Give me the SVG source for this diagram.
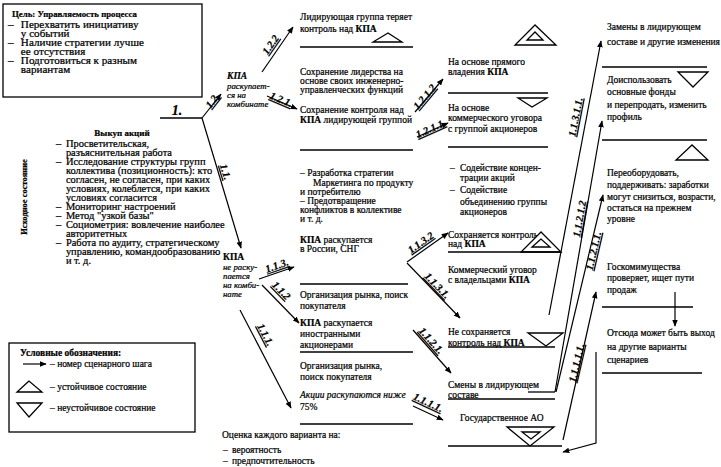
<svg xmlns="http://www.w3.org/2000/svg" width="721" height="467" viewBox="0 0 721 467">
<defs>
<marker id="ah" viewBox="0 0 10 10" refX="9" refY="5" markerWidth="7" markerHeight="7" orient="auto" markerUnits="userSpaceOnUse"><path d="M0,1 L10,5 L0,9 Z" fill="#000"/></marker>
</defs>
<style>
text{font-family:"Liberation Serif","Times New Roman",serif;font-size:9.5px;fill:#000;stroke:#000;stroke-width:0.22}
.b{font-weight:bold}
.i{font-style:italic}
.n{font-weight:bold;font-style:italic;font-size:10.5px;text-decoration:underline;text-anchor:middle}
.ln{stroke:#000;stroke-width:1.3;fill:none}
.ar{stroke:#000;stroke-width:1.2;fill:none;marker-end:url(#ah)}
.tr{stroke:#000;stroke-width:1.3;fill:#fff}
</style>
<rect width="721" height="467" fill="#fff"/>

<g id="goal">
<rect x="3" y="4" width="199" height="93" class="ln"/>
<text x="12" y="17" class="b" style="font-size:8.8px">Цель: Управляемость процесса</text>
<g transform="translate(8,0) scale(1.17,1)">
<text x="0" y="28">–</text><text x="11" y="28">Перехватить инициативу</text>
<text x="11" y="37">у событий</text>
<text x="0" y="46">–</text><text x="11" y="46">Наличие стратегии лучше</text>
<text x="11" y="55">ее отсутствия</text>
<text x="0" y="64">–</text><text x="11" y="64">Подготовиться к разным</text>
<text x="11" y="73">вариантам</text>
</g>
</g>

<g id="initial">
<text transform="translate(27,197) rotate(-90)" class="b" style="font-size:8.5px;text-anchor:middle">Исходное состояние</text>
<text x="122" y="136" class="b" style="text-anchor:middle;font-size:9px">Выкуп акций</text>
<g transform="translate(56,0) scale(1.1,1)">
<text x="0" y="147">–</text><text x="9" y="147">Просветительская,</text>
<text x="9" y="156">разъяснительная работа</text>
<text x="0" y="165">–</text><text x="9" y="165">Исследование структуры групп</text>
<text x="9" y="174">коллектива (позиционность): кто</text>
<text x="9" y="183">согласен, не согласен, при каких</text>
<text x="9" y="192">условиях, колеблется, при каких</text>
<text x="9" y="201">условиях согласится</text>
<text x="0" y="210">–</text><text x="9" y="210">Мониторинг настроений</text>
<text x="0" y="219">–</text><text x="9" y="219">Метод "узкой базы"</text>
<text x="0" y="228">–</text><text x="9" y="228">Социометрия: вовлечение наиболее</text>
<text x="9" y="237">авторитетных</text>
<text x="0" y="246">–</text><text x="9" y="246">Работа по аудиту, стратегическому</text>
<text x="9" y="255">управлению, командообразованию</text>
<text x="9" y="264">и т. д.</text>
</g>
</g>

<g id="legend">
<rect x="9" y="343" width="186" height="89" class="ln"/>
<text x="20" y="356" class="b">Условные обозначения:</text>
<line x1="23" y1="364" x2="46" y2="364" class="ar"/>
<text x="50" y="367">– номер сценарного шага</text>
<polygon points="29,381 17,392 42,392" class="tr"/>
<text x="50" y="390">– устойчивое состояние</text>
<polygon points="17,403 42,403 29,417" class="tr"/>
<text x="50" y="411">– неустойчивое состояние</text>
</g>

<g id="n12">
<text x="227" y="79" class="b i">КПА</text>
<text x="227" y="89" class="i" style="font-size:8.8px">раскупает-</text>
<text x="227" y="98" class="i" style="font-size:8.8px">ся на</text>
<text x="227" y="107" class="i" style="font-size:8.8px">комбинате</text>
</g>

<g id="n11">
<text x="223" y="260" class="b">КПА</text>
<text x="223" y="270" class="i" style="font-size:8.8px">не раску-</text>
<text x="223" y="279" class="i" style="font-size:8.8px">пается</text>
<text x="223" y="288" class="i" style="font-size:8.8px">на комби-</text>
<text x="223" y="297" class="i" style="font-size:8.8px">нате</text>
</g>

<g id="n122">
<text x="300" y="20">Лидирующая группа теряет</text>
<text x="300" y="32">контроль над <tspan class="b">КПА</tspan></text>
<polygon points="388,33 373,42 402,42" class="tr"/>
</g>

<g id="n121">
<text x="300" y="75">Сохранение лидерства на</text>
<text x="300" y="84">основе своих инженерно-</text>
<text x="300" y="93">управленческих функций</text>
<text x="300" y="113">Сохранение контроля над</text>
<text x="300" y="123"><tspan class="b">КПА</tspan> лидирующей группой</text>
</g>

<g id="n1212">
<polygon points="535,25 515,45 556,45" class="tr"/>
<polygon points="535,32 527,40 543,40" class="tr"/>
<text x="448" y="65">На основе прямого</text>
<text x="448" y="75">владения <tspan class="b">КПА</tspan></text>
</g>

<g id="n1211">
<polygon points="518,98 547,98 532,107" class="tr"/>
<text x="448" y="111">На основе</text>
<text x="448" y="121">коммерческого уговора</text>
<text x="448" y="132">с группой акционеров</text>
</g>

<g id="n113">
<text x="300" y="176">– Разработка стратегии</text>
<text x="313" y="186">Маркетинга по продукту</text>
<text x="300" y="195">и потребителю</text>
<text x="300" y="204">– Предотвращение</text>
<text x="300" y="213">конфликтов в коллективе</text>
<text x="300" y="222">и т. д.</text>
<text x="300" y="243"><tspan class="b">КПА</tspan> раскупается</text>
<text x="300" y="252">в России, СНГ</text>
</g>

<g id="n1132">
<text x="450" y="171">–</text><text x="460" y="171">Содействие концен-</text>
<text x="460" y="181">трации акций</text>
<text x="450" y="193">–</text><text x="460" y="193">Содействие</text>
<text x="460" y="205">объединению группы</text>
<text x="460" y="215">акционеров</text>
<text x="448" y="238">Сохраняется контроль</text>
<text x="448" y="247">над <tspan class="b">КПА</tspan></text>
<polygon points="541,232 521,252 561,252" class="tr"/>
<polygon points="541,239 532,247 550,247" class="tr"/>
</g>

<g id="n1131">
<text x="448" y="273">Коммерческий уговор</text>
<text x="448" y="283">с владельцами <tspan class="b">КПА</tspan></text>
<text x="448" y="335">Не сохраняется</text>
<text x="448" y="346">контроль над <tspan class="b">КПА</tspan></text>
<polygon points="528,333 563,333 546,346" class="tr"/>
</g>

<g id="n112">
<text x="300" y="298">Организация рынка, поиск</text>
<text x="300" y="309">покупателя</text>
<text x="300" y="326"><tspan class="b">КПА</tspan> раскупается</text>
<text x="300" y="337">иностранными</text>
<text x="300" y="348">акционерами</text>
</g>

<g id="n111">
<text x="300" y="369">Организация рынка,</text>
<text x="300" y="380">поиск покупателя</text>
<text x="300" y="398" class="i">Акции раскупаются ниже</text>
<text x="300" y="410">75%</text>
</g>

<g id="n1121">
<text x="448" y="388">Смены в лидирующем</text>
<text x="448" y="398">составе</text>
</g>

<g id="n1111">
<text x="460" y="421">Государственное АО</text>
<polygon points="507,427 554,427 530,446" class="tr"/>
<polygon points="522,432 540,432 531,439" class="tr"/>
</g>

<g id="n11311">
<text x="607" y="30">Замены в лидирующем</text>
<text x="607" y="45">составе и другие изменения</text>
</g>

<g id="n11212">
<polygon points="678,72 708,72 693,87" class="tr"/>
<text x="607" y="83">Доиспользовать</text>
<text x="607" y="95">основные фонды</text>
<text x="607" y="108">и перепродать, изменить</text>
<text x="607" y="120">профиль</text>
</g>

<g id="n11211">
<polygon points="692,145 676,160 708,160" class="tr"/>
<text x="607" y="176">Переоборудовать,</text>
<text x="607" y="188">поддерживать: заработки</text>
<text x="607" y="200">могут снизиться, возрасти,</text>
<text x="607" y="211">остаться на прежнем</text>
<text x="607" y="222">уровне</text>
</g>

<g id="n11111">
<text x="607" y="270">Госкомимущества</text>
<text x="607" y="281">проверяет, ищет пути</text>
<text x="607" y="293">продаж</text>
</g>

<g id="exit">
<text x="607" y="336">Отсюда может быть выход</text>
<text x="607" y="350">на другие варианты</text>
<text x="607" y="363">сценариев</text>
</g>

<g id="evaluation">
<text x="222" y="438">Оценка каждого варианта на:</text>
<text x="223" y="453">–</text><text x="232" y="453">вероятность</text>
<text x="223" y="464">–</text><text x="232" y="464">предпочтительность</text>
</g>

<g id="connectors">
<line x1="300" y1="47" x2="413" y2="47" class="ln"/>
<line x1="300" y1="150" x2="413" y2="150" class="ln"/>
<line x1="300" y1="284" x2="408" y2="284" class="ln"/>
<line x1="300" y1="352" x2="413" y2="352" class="ln"/>
<line x1="300" y1="424" x2="413" y2="424" class="ln"/>
<line x1="448" y1="93" x2="548" y2="93" class="ln"/>
<line x1="448" y1="147" x2="548" y2="147" class="ln"/>
<line x1="448" y1="252" x2="560" y2="252" class="ln"/>
<line x1="448" y1="347" x2="555" y2="347" class="ln"/>
<line x1="528" y1="392" x2="555" y2="392" class="ln"/>
<line x1="448" y1="399" x2="555" y2="399" class="ln"/>
<line x1="448" y1="446" x2="562" y2="446" class="ln"/>
<line x1="602" y1="67" x2="707" y2="67" class="ln"/>
<line x1="602" y1="140" x2="707" y2="140" class="ln"/>
<line x1="602" y1="373" x2="702" y2="373" class="ln"/>
<line x1="602" y1="307" x2="693" y2="307" class="ln"/>

<line x1="160" y1="118" x2="202" y2="118" class="ln"/>
<line x1="202" y1="118" x2="221" y2="94" class="ar"/>
<line x1="202" y1="118" x2="241" y2="248" class="ar"/>
<line x1="262" y1="72" x2="293" y2="27" class="ar"/>
<line x1="267" y1="96" x2="297" y2="109" class="ar"/>
<line x1="415" y1="112" x2="443" y2="79" class="ar"/>
<line x1="417" y1="137" x2="448" y2="123" class="ar"/>
<line x1="259" y1="279" x2="294" y2="267" class="ar"/>
<line x1="262" y1="285" x2="299" y2="323" class="ar"/>
<line x1="240" y1="310" x2="291" y2="408" class="ar"/>
<line x1="407" y1="262" x2="448" y2="233" class="ar"/>
<line x1="407" y1="263" x2="460" y2="318" class="ar"/>
<line x1="413" y1="330" x2="451" y2="373" class="ar"/>
<line x1="413" y1="406" x2="443" y2="420" class="ar"/>
<line x1="549" y1="315" x2="601" y2="41" class="ar"/>
<line x1="555" y1="392" x2="602" y2="121" class="ar"/>
<line x1="556" y1="392" x2="603" y2="195" class="ar"/>
<line x1="563" y1="440" x2="596" y2="292" class="ar"/>
<line x1="675" y1="292" x2="675" y2="326" class="ar"/>
<polyline points="596,352 596,443 563,452" class="ar"/>

<text x="177" y="115" class="n" style="font-size:14px;text-decoration:none">1.</text>
<text transform="translate(213,101) rotate(-52)" y="3" class="n">1.2.</text>
<text transform="translate(225,172) rotate(73)" y="3" class="n">1.1.</text>
<text transform="translate(271,45) rotate(-55)" y="3" class="n">1.2.2</text>
<text transform="translate(281,100) rotate(23)" y="3" class="n">1.2.1.</text>
<text transform="translate(425,97) rotate(-50)" y="3" class="n">1.2.1.2</text>
<text transform="translate(431,129) rotate(-24)" y="3" class="n">1.2.1.1.</text>
<text transform="translate(277,266) rotate(-19)" y="3" class="n">1.1.3.</text>
<text transform="translate(281,291) rotate(46)" y="3" class="n">1.1.2</text>
<text transform="translate(265,335) rotate(62.5)" y="3" class="n">1.1.1.</text>
<text transform="translate(421,243) rotate(-35)" y="3" class="n">1.1.3.2</text>
<text transform="translate(437,286) rotate(46)" y="3" class="n">1.1.3.1.</text>
<text transform="translate(431,341) rotate(48.5)" y="3" class="n">1.1.2.1.</text>
<text transform="translate(428,403) rotate(25)" y="3" class="n">1.1.1.1.</text>
<text transform="translate(576,117) rotate(-79)" y="3" class="n">1.1.3.1.1.</text>
<text transform="translate(580,219) rotate(-80)" y="3" class="n">1.1.2.1.2</text>
<text transform="translate(594,251) rotate(-77)" y="3" class="n">1.1.2.1.1.</text>
<text transform="translate(577,363) rotate(-77)" y="3" class="n">1.1.1.1.1.</text>
</g>
</svg>
